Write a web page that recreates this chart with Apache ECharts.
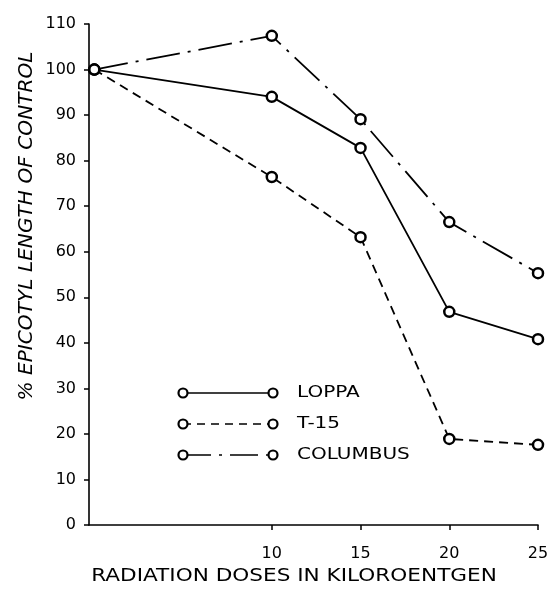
<!DOCTYPE html>
<html>
<head>
<meta charset="utf-8">
<script src="https://cdn.jsdelivr.net/npm/echarts@6/dist/echarts.min.js"></script>
<style>
  html, body { margin: 0; padding: 0; background: #fff; }
  #chart { width: 555px; height: 590px; }
</style>
</head>
<body>
<div id="chart"></div>
<script>
// Data
var doses = [0, 10, 15, 20, 25];
var loppa = [100, 94, 82.8, 46.8, 40.8];
var t15 = [100, 76.4, 63.2, 18.9, 17.6];
var columbus = [100, 107.4, 89.1, 66.5, 55.3];
var xTickValues = [10, 15, 20, 25];
var seriesNames = ['LOPPA', 'T-15', 'COLUMBUS'];
var xTitle = 'RADIATION DOSES IN KILOROENTGEN';
var yTitle = '% EPICOTYL LENGTH OF CONTROL';

function pairs(vals) { return doses.map(function (d, i) { return [d, vals[i]]; }); }

var FONT = 'DejaVu Sans';
var dashT15 = [9, 6];
var dashCol = [34, 8, 3, 8];

var chart = echarts.init(document.getElementById('chart'), null, { renderer: 'canvas' });

function seriesOf(name, vals, type) {
  return {
    name: name,
    type: 'line',
    data: pairs(vals),
    symbol: 'circle',
    symbolSize: 10,
    showSymbol: true,
    lineStyle: { color: '#000', width: 1.8, type: type },
    itemStyle: { color: '#fff', borderColor: '#000', borderWidth: 2.5 },
    emphasis: { disabled: true },
    z: 3
  };
}

function legendRow(y, name, dash) {
  return {
    type: 'group',
    children: [
      { type: 'line', shape: { x1: 183, y1: y, x2: 273, y2: y },
        style: { stroke: '#000', lineWidth: 1.6, lineDash: dash } },
      { type: 'circle', shape: { cx: 183, cy: y, r: 4.5 },
        style: { fill: '#fff', stroke: '#000', lineWidth: 2.2 } },
      { type: 'circle', shape: { cx: 273, cy: y, r: 4.5 },
        style: { fill: '#fff', stroke: '#000', lineWidth: 2.2 } },
      { type: 'text', x: 297, y: y, scaleX: 1.25, style: { text: name, fill: '#000', font: '16px ' + FONT,
        textVerticalAlign: 'middle', textAlign: 'left' } }
    ]
  };
}

var option = {
  backgroundColor: '#fff',
  animation: false,
  grid: { left: 89, right: 17, top: 24, bottom: 65, containLabel: false, outerBoundsMode: 'none' },
  xAxis: {
    type: 'value',
    min: -0.3,
    max: 25,
    axisLine: { show: true, onZero: false, lineStyle: { color: '#000', width: 1.6 } },
    axisTick: { show: true, customValues: xTickValues, length: 5, lineStyle: { color: '#000', width: 1.5 } },
    axisLabel: { show: true, customValues: xTickValues, color: '#000', fontFamily: FONT, fontSize: 16, margin: 21 },
    splitLine: { show: false }
  },
  yAxis: {
    type: 'value',
    min: 0,
    max: 110,
    interval: 10,
    axisLine: { show: true, onZero: false, lineStyle: { color: '#000', width: 1.6 } },
    axisTick: { show: true, length: 5, lineStyle: { color: '#000', width: 1.5 } },
    axisLabel: { color: '#000', fontFamily: FONT, fontSize: 16, margin: 13, padding: [0, 0, 10, 0] },
    splitLine: { show: false }
  },
  series: [
    seriesOf(seriesNames[0], loppa, 'solid'),
    seriesOf(seriesNames[1], t15, dashT15),
    seriesOf(seriesNames[2], columbus, dashCol)
  ],
  graphic: [
    legendRow(393, seriesNames[0], null),
    legendRow(424, seriesNames[1], [8, 6]),
    legendRow(455, seriesNames[2], [28, 8, 3, 8]),
    { type: 'text', x: 294, y: 577, scaleX: 1.27,
      style: { text: xTitle, fill: '#000', font: '17px ' + FONT, textAlign: 'center',
        textVerticalAlign: 'middle' } },
    { type: 'text', x: 27, y: 226, rotation: Math.PI / 2, scaleX: 1.06,
      style: { text: yTitle, fill: '#000', font: 'italic 19px ' + FONT, textAlign: 'center',
        textVerticalAlign: 'middle' } }
  ]
};
chart.setOption(option);
</script>
</body>
</html>
